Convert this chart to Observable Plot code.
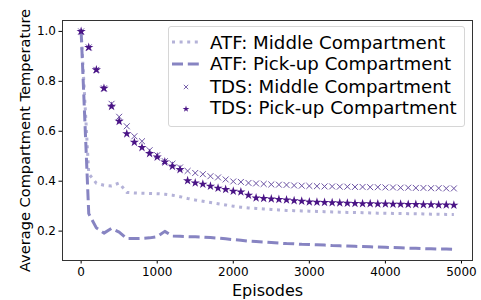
<!DOCTYPE html>
<html>
<head>
<meta charset="utf-8">
<script src="https://cdn.jsdelivr.net/npm/d3@7"></script>
<script src="https://cdn.jsdelivr.net/npm/@observablehq/plot@0.6"></script>
<style>
  html, body { margin: 0; padding: 0; background: #fff; }
  #wrap { position: relative; width: 481px; height: 300px; font-family: "DejaVu Sans", sans-serif; }
  #legend { position: absolute; left: 168px; top: 26px; width: 297px; height: 101px; box-sizing: border-box;
            border: 1px solid #d6d6d6; border-radius: 3px; background: rgba(255,255,255,0.85); }
  .row { position: absolute; left: 0; height: 22px; display: flex; align-items: center; font-size: 18.2px; color: #000; white-space: nowrap; }
  .row svg { margin-left: 3px; margin-right: 10px; }
</style>
</head>
<body>
<div id="wrap"><div id="legend"></div></div>
<script>
const episodes = [0,100,200,300,400,500,600,700,800,900,1000,1100,1200,1300,1400,1500,1600,1700,1800,1900,
  2000,2100,2200,2300,2400,2500,2600,2700,2800,2900,3000,3100,3200,3300,3400,3500,3600,3700,3800,3900,
  4000,4100,4200,4300,4400,4500,4600,4700,4800,4900];

const atfMiddle = [1.0,0.43,0.392,0.384,0.381,0.393,0.355,0.353,0.352,0.351,0.350,0.348,0.344,0.338,0.331,0.325,0.320,0.315,0.310,0.305,
  0.300,0.296,0.293,0.291,0.289,0.287,0.285,0.283,0.282,0.281,0.280,0.279,0.278,0.277,0.276,0.275,0.275,0.274,0.273,0.272,
  0.272,0.271,0.271,0.270,0.270,0.269,0.268,0.268,0.267,0.267];

const atfPickup = [1.0,0.27,0.213,0.192,0.211,0.196,0.170,0.170,0.171,0.173,0.178,0.199,0.180,0.179,0.178,0.177,0.176,0.174,0.172,0.169,
  0.166,0.163,0.160,0.158,0.156,0.154,0.152,0.150,0.149,0.147,0.146,0.145,0.144,0.142,0.141,0.140,0.139,0.138,0.137,0.136,
  0.135,0.134,0.133,0.132,0.131,0.130,0.129,0.128,0.128,0.127];

const tdsMiddle = [1.0,0.936,0.846,0.772,0.710,0.658,0.620,0.580,0.560,0.524,0.504,0.480,0.470,0.455,0.441,0.433,0.428,0.420,0.415,0.407,
  0.399,0.397,0.393,0.391,0.389,0.387,0.386,0.385,0.383,0.382,0.381,0.380,0.379,0.379,0.378,0.378,0.377,0.377,0.376,0.376,
  0.375,0.375,0.374,0.374,0.373,0.373,0.372,0.372,0.371,0.371];

const tdsPickup = [1.0,0.936,0.846,0.772,0.700,0.640,0.590,0.556,0.535,0.511,0.497,0.477,0.460,0.447,0.402,0.393,0.388,0.380,0.372,0.367,
  0.360,0.357,0.344,0.333,0.331,0.329,0.327,0.325,0.322,0.320,0.317,0.316,0.315,0.314,0.313,0.312,0.311,0.310,0.310,0.309,
  0.309,0.308,0.308,0.307,0.307,0.306,0.306,0.305,0.305,0.304];

const xTicks = [0,1000,2000,3000,4000,5000];
const yTicks = [0.2,0.4,0.6,0.8,1.0];
const xLabel = "Episodes";
const yLabel = "Average Compartment Temperature";
const seriesNames = ["ATF: Middle Compartment","ATF: Pick-up Compartment","TDS: Middle Compartment","TDS: Pick-up Compartment"];

const colDotted = "#b4b2d8";
const colDashed = "#8784c2";
const colCross = "#6a51a3";
const colStar = "#4a1486";

const rows = (vals) => episodes.map((e, i) => ({x: e, y: vals[i]}));

const chart = Plot.plot({
  width: 481, height: 300,
  marginLeft: 62, marginRight: 9, marginTop: 20, marginBottom: 40,
  style: {fontFamily: "DejaVu Sans", fontSize: "12px", color: "#000", background: "#fff"},
  x: {domain: [-245, 5145]},
  y: {domain: [0.0823, 1.0437]},
  marks: [
    Plot.axisX({ticks: xTicks, tickSize: 3.5, tickPadding: 3, tickFormat: d => String(d), label: null, fontSize: 12}),
    Plot.axisY({ticks: yTicks, tickSize: 3.5, tickPadding: 3, tickFormat: d => d.toFixed(1), label: null, fontSize: 12}),
    Plot.line(rows(atfMiddle), {x: "x", y: "y", stroke: colDotted, strokeWidth: 3, strokeDasharray: "3,4.6", strokeLinecap: "butt"}),
    Plot.line(rows(atfPickup), {x: "x", y: "y", stroke: colDashed, strokeWidth: 3, strokeDasharray: "11,4.8", strokeLinecap: "butt"}),
    Plot.dot(rows(tdsMiddle), {x: "x", y: "y", symbol: "times", r: 2.8, stroke: colCross, strokeWidth: 1}),
    Plot.dot(rows(tdsPickup), {x: "x", y: "y", symbol: "star", r: 2.9, fill: colStar, stroke: "none"}),
    Plot.frame({stroke: "#333", strokeWidth: 1}),
    Plot.text([xLabel], {frameAnchor: "bottom", dy: 30, lineAnchor: "middle", textAnchor: "middle", fontSize: 16, text: d => d}),
    Plot.text([yLabel], {frameAnchor: "left", dx: -37, rotate: -90, textAnchor: "middle", lineAnchor: "middle", fontSize: 14.6, text: d => d})
  ]
});
document.getElementById("wrap").prepend(chart);

// legend
const legend = document.getElementById("legend");
const handles = [
  `<svg width="28" height="20"><line x1="0" y1="10" x2="28" y2="10" stroke="${colDotted}" stroke-width="3" stroke-dasharray="3,4.6"/></svg>`,
  `<svg width="28" height="20"><line x1="0" y1="10" x2="28" y2="10" stroke="${colDashed}" stroke-width="3" stroke-dasharray="11,4.8"/></svg>`,
  `<svg width="28" height="20"><path d="M11.8,8.8L16.2,13.2M16.2,8.8L11.8,13.2" stroke="${colCross}" stroke-width="0.9"/></svg>`,
  `<svg width="28" height="20"><path transform="translate(14,11)" d="${d3.symbol(d3.symbolStar, 14)()}" fill="${colStar}"/></svg>`
];
const tops = [4, 25.7, 48, 69.5];
seriesNames.forEach((name, i) => {
  const r = document.createElement("div");
  r.className = "row";
  r.style.top = tops[i] + "px";
  r.innerHTML = handles[i] + `<span>${name}</span>`;
  legend.appendChild(r);
});
</script>
</body>
</html>
